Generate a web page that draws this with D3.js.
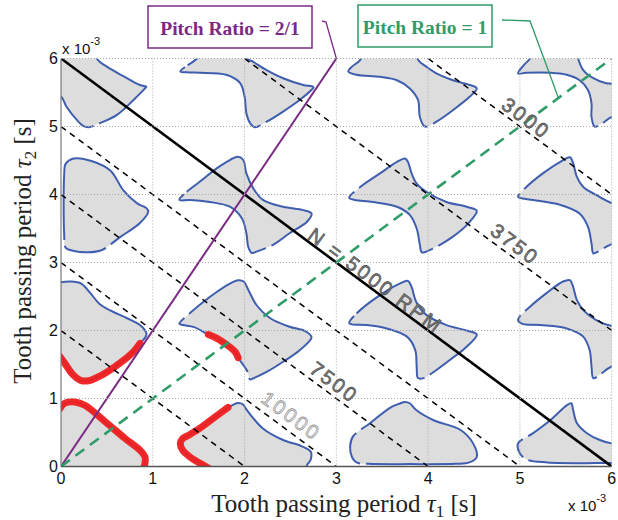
<!DOCTYPE html>
<html>
<head>
<meta charset="utf-8">
<script src="https://cdn.jsdelivr.net/npm/d3@7"></script>
<style>
  body { margin: 0; background: #fff; }
  svg { display: block; }
</style>
</head>
<body>
<svg id="chart" width="618" height="520"></svg>
<script>
// Tooth passing periods are given in ms (axes show values x 10^-3 s).
const tickValues = [0, 1, 2, 3, 4, 5, 6];

// Unstable lobes in the (tau1, tau2) plane, one outline per lobe, [tau1, tau2] in ms.
const lobe00 = [[-0.3,-0.3],[-0.3,0.856],[-0.01,0.856],[0.04,0.93],[0.15,0.95],[0.26,0.9],[0.48,0.66],[0.7,0.41],[0.86,0.24],[0.915,0.14],[0.915,0.05],[0.9,-0.03],[0.9,-0.3]];
const lobe10 = [[1.615,-0.03],[1.51,0.05],[1.405,0.14],[1.325,0.24],[1.3,0.34],[1.325,0.41],[1.39,0.46],[1.51,0.56],[1.66,0.71],[1.82,0.87],[1.93,0.935],[1.98,0.915],[2.03,0.82],[2.2,0.56],[2.42,0.39],[2.62,0.3],[2.72,0.22],[2.72,0.1],[2.68,0.02],[2.6,-0.3],[1.7,-0.3]];
const lobe20 = [[3.15,0.29],[3.17,0.14],[3.22,0.06],[3.35,0.04],[3.8,0.035],[4.3,0.04],[4.45,0.06],[4.53,0.14],[4.49,0.34],[4.35,0.54],[4.06,0.68],[3.87,0.83],[3.8,0.93],[3.75,0.95],[3.68,0.92],[3.58,0.86],[3.37,0.64],[3.18,0.44]];
const lobe30 = [[4.98,0.34],[5.0,0.19],[5.08,0.1],[5.3,0.06],[6.0,0.05],[6.3,0.05],[6.3,0.33],[6.0,0.34],[5.87,0.39],[5.73,0.49],[5.62,0.64],[5.58,0.83],[5.56,0.93],[5.51,0.9],[5.33,0.68],[5.145,0.49]];
const lobe01 = [[-0.3,1.615],[-0.01,1.615],[0.04,1.52],[0.117,1.37],[0.21,1.27],[0.3,1.26],[0.41,1.32],[0.59,1.47],[0.77,1.66],[0.86,1.81],[0.92,1.9],[0.93,1.96],[0.86,2.08],[0.72,2.18],[0.53,2.3],[0.42,2.39],[0.32,2.55],[0.22,2.69],[0.1,2.72],[0.0,2.71],[-0.3,2.71]];
const lobe11 = [[1.29,2.1],[1.4,2.25],[1.55,2.42],[1.7,2.57],[1.84,2.69],[1.93,2.74],[1.99,2.72],[2.04,2.6],[2.13,2.375],[2.28,2.18],[2.49,2.056],[2.66,1.99],[2.73,1.9],[2.6,1.71],[2.42,1.54],[2.24,1.39],[2.1,1.3],[2.06,1.28],[2.03,1.4],[1.93,1.6],[1.895,1.69],[1.805,1.79],[1.7,1.885],[1.605,1.94],[1.45,2.05],[1.33,2.08]];
const lobe21 = [[3.14,2.11],[3.22,2.25],[3.475,2.52],[3.69,2.69],[3.78,2.73],[3.82,2.64],[3.87,2.42],[3.98,2.23],[4.2,2.08],[4.42,2.0],[4.53,1.94],[4.42,1.76],[4.24,1.57],[4.06,1.39],[3.95,1.3],[3.89,1.3],[3.875,1.47],[3.86,1.71],[3.77,1.91],[3.55,2.03],[3.33,2.08],[3.17,2.09]];
const lobe31 = [[4.98,2.16],[5.11,2.35],[5.29,2.55],[5.47,2.72],[5.545,2.74],[5.58,2.64],[5.62,2.45],[5.69,2.3],[5.835,2.15],[6.02,2.06],[6.3,2.02],[6.3,1.55],[6.0,1.47],[5.87,1.35],[5.8,1.3],[5.78,1.47],[5.76,1.71],[5.69,1.91],[5.51,2.03],[5.22,2.08],[5.02,2.1]];
const lobe02 = [[0.29,3.15],[0.14,3.17],[0.05,3.22],[0.035,3.4],[0.035,4.3],[0.05,4.45],[0.14,4.53],[0.34,4.49],[0.54,4.35],[0.68,4.06],[0.83,3.87],[0.93,3.8],[0.95,3.75],[0.86,3.58],[0.64,3.37],[0.44,3.18]];
const lobe12 = [[1.289,3.92],[1.37,4.04],[1.514,4.19],[1.696,4.385],[1.84,4.507],[1.93,4.556],[1.986,4.507],[2.02,4.31],[2.095,4.09],[2.2,3.92],[2.42,3.82],[2.64,3.77],[2.73,3.72],[2.68,3.6],[2.49,3.43],[2.31,3.26],[2.13,3.16],[2.08,3.14],[2.04,3.23],[2.02,3.43],[1.97,3.65],[1.84,3.82],[1.62,3.89],[1.405,3.92]];
const lobe22 = [[3.14,3.95],[3.26,4.11],[3.475,4.31],[3.66,4.48],[3.75,4.53],[3.78,4.48],[3.82,4.31],[3.875,4.16],[3.98,4.04],[4.2,3.89],[4.42,3.82],[4.53,3.76],[4.42,3.55],[4.27,3.38],[4.13,3.26],[3.98,3.16],[3.93,3.15],[3.91,3.26],[3.875,3.5],[3.8,3.7],[3.66,3.82],[3.4,3.89],[3.2,3.92]];
const lobe32 = [[4.98,3.97],[5.07,4.11],[5.25,4.31],[5.44,4.48],[5.545,4.547],[5.58,4.46],[5.62,4.26],[5.69,4.11],[5.835,3.99],[6.01,3.87],[6.3,3.8],[6.3,3.4],[6.0,3.27],[5.94,3.23],[5.85,3.16],[5.8,3.135],[5.78,3.28],[5.74,3.53],[5.65,3.72],[5.435,3.85],[5.145,3.92],[5.0,3.95]];
const lobe03 = [[-0.3,6.3],[-0.3,5.6],[0.0,5.44],[0.06,5.29],[0.17,5.1],[0.24,5.01],[0.3,4.99],[0.425,5.05],[0.61,5.17],[0.79,5.39],[0.915,5.56],[0.93,5.585],[0.86,5.61],[0.68,5.74],[0.5,5.88],[0.39,6.0],[0.35,6.3]];
const lobe13 = [[1.3,5.81],[1.38,5.9],[1.48,6.0],[1.6,6.3],[2.0,6.3],[2.03,6.0],[2.095,5.95],[2.24,5.83],[2.42,5.71],[2.64,5.61],[2.75,5.58],[2.73,5.54],[2.6,5.39],[2.42,5.22],[2.24,5.07],[2.11,4.99],[2.06,5.05],[2.02,5.19],[2.0,5.44],[1.95,5.64],[1.8,5.76],[1.51,5.79],[1.4,5.795]];
const lobe23 = [[3.13,5.81],[3.17,5.88],[3.26,5.98],[3.35,6.3],[3.85,6.3],[3.89,5.98],[3.98,5.88],[4.09,5.78],[4.27,5.68],[4.455,5.61],[4.53,5.56],[4.455,5.44],[4.27,5.24],[4.09,5.07],[3.965,5.0],[3.91,5.14],[3.89,5.39],[3.8,5.56],[3.66,5.68],[3.475,5.73],[3.22,5.76]];
const lobe33 = [[4.98,5.78],[5.04,5.9],[5.11,6.0],[5.2,6.3],[5.6,6.3],[5.635,6.0],[5.69,5.83],[5.8,5.71],[5.94,5.635],[6.0,5.63],[6.3,5.6],[6.3,5.2],[6.0,5.14],[5.9,5.05],[5.815,5.0],[5.78,5.14],[5.78,5.34],[5.74,5.54],[5.65,5.68],[5.51,5.76],[5.33,5.79],[5.07,5.79]];
const lobes = [lobe00, lobe10, lobe20, lobe30, lobe01, lobe11, lobe21, lobe31,
               lobe02, lobe12, lobe22, lobe32, lobe03, lobe13, lobe23, lobe33];

// Breaks in each lobe's contour line (same order as lobes), [tau1, tau2] in ms.
const lobeBreaks = [
  [], [], [[3.29,0.05],[3.26,0.51]], [[5.07,0.14],[5.07,0.41]],
  [], [[1.37,2.2],[2.0,1.33]], [[3.2,2.25],[3.98,1.35]], [[5.02,2.25],[5.87,1.35]],
  [[0.05,3.29],[0.51,3.26]], [[1.34,4.05],[2.26,3.23]], [[3.2,4.09],[4.09,3.21]], [[5.02,4.04],[5.89,3.18]],
  [[0.38,5.02]], [[1.38,5.86],[2.2,5.05]], [[4.02,5.05]], [[5.87,5.05]]
];

// Stability boundary points found by the search (red markers).
const edgeA  = [[-0.01,0.856],[0.04,0.93],[0.15,0.95],[0.26,0.9],[0.48,0.66],[0.7,0.41],[0.86,0.24],[0.915,0.14],[0.915,0.05],[0.9,-0.03]];
const edgeB  = [[1.615,-0.03],[1.51,0.05],[1.405,0.14],[1.325,0.24],[1.3,0.34],[1.325,0.41],[1.39,0.46],[1.51,0.56],[1.66,0.71],[1.82,0.87]];
const edgeC  = [[-0.01,1.615],[0.04,1.52],[0.117,1.37],[0.21,1.27],[0.3,1.26],[0.41,1.32],[0.59,1.47],[0.77,1.66],[0.86,1.81]];
const edgeD  = [[1.605,1.94],[1.7,1.885],[1.805,1.79],[1.895,1.69],[1.93,1.6]];
const stableEdges = [edgeA, edgeB, edgeC, edgeD];

// Constant spindle speed lines: 4 teeth, 2(tau1 + tau2) = 60/N  ->  tau1 + tau2 = 30000/N ms
const dashedSpeeds = [15000, 10000, 7500, 6000, 3750, 3000];
const referenceSpeed = 5000;
const speedLabels = [
  { rpm: 3000,  text: "3000",          at: 5.0,   off: 10.6, light: false },
  { rpm: 3750,  text: "3750",          at: 4.87,  off: 12.0, light: false },
  { rpm: 5000,  text: "N = 5000 RPM",  at: 3.37,  off: 9.0,  light: false },
  { rpm: 7500,  text: "7500",          at: 2.9,   off: 12.0, light: false },
  { rpm: 10000, text: "10000",         at: 2.42,  off: 14.0, light: true }
];

// Pitch ratio lines tau2 = r * tau1 and their callouts
const pitchRatios = [
  { r: 2, label: "Pitch Ratio = 2/1", color: "#7b2a84", dash: null,   target: 3.0,  box: [148, 6, 164, 42] },
  { r: 1, label: "Pitch Ratio = 1",   color: "#2f9c69", dash: "11,7", target: 5.42, box: [358, 5, 134, 42] }
];

const plot = { left: 61, right: 611.7, top: 58.5, bottom: 466.5 };

const x = d3.scaleLinear().domain([0, 6]).range([plot.left, plot.right]);
const y = d3.scaleLinear().domain([0, 6]).range([plot.bottom, plot.top]);

const svg = d3.select("#chart");

svg.append("defs").append("clipPath").attr("id", "plotClip")
  .append("rect")
  .attr("x", plot.left).attr("y", plot.top)
  .attr("width", plot.right - plot.left).attr("height", plot.bottom - plot.top);

const area = svg.append("g").attr("clip-path", "url(#plotClip)");

// Lobes: fill, then contour line with its breaks
const lobeLine = d3.line().x(d => x(d[0])).y(d => y(d[1])).curve(d3.curveCatmullRomClosed.alpha(0.5));
area.append("g").selectAll("path").data(lobes).join("path")
  .attr("d", lobeLine)
  .attr("fill", "#dddddd")
  .attr("stroke", "none");

function breakDashes(node, breaks) {
  const L = node.getTotalLength();
  if (!breaks.length) return null;
  const pos = breaks.map(b => {
    const bx = x(b[0]), by = y(b[1]);
    let best = 0, bd = Infinity;
    for (let s = 0; s <= L; s += 1) {
      const p = node.getPointAtLength(s);
      const d = (p.x - bx) ** 2 + (p.y - by) ** 2;
      if (d < bd) { bd = d; best = s; }
    }
    return best;
  }).sort((a, b) => a - b);
  const arr = [];
  let cur = 0;
  pos.forEach(p => {
    const a = Math.max(cur, p - 3);
    arr.push(a - cur, 6);
    cur = a + 6;
  });
  arr.push(L - cur + 2, 0);
  return arr.join(",");
}

area.append("g").selectAll("path").data(lobes).join("path")
  .attr("d", lobeLine)
  .attr("fill", "none")
  .attr("stroke", "#3f5eaf")
  .attr("stroke-width", 2)
  .each(function (d, i) {
    const dash = breakDashes(this, lobeBreaks[i]);
    if (dash) d3.select(this).attr("stroke-dasharray", dash);
  });

// Dotted grid
const grid = svg.append("g");
grid.selectAll("line.gx").data(tickValues.filter(v => v > 0)).join("line")
  .attr("class", "gx")
  .attr("x1", d => x(d)).attr("x2", d => x(d))
  .attr("y1", plot.top).attr("y2", plot.bottom)
  .attr("stroke", "#a8a8a8").attr("stroke-width", 1).attr("stroke-dasharray", "1,2");
grid.selectAll("line.gy").data(tickValues.filter(v => v > 0)).join("line")
  .attr("class", "gy")
  .attr("x1", plot.left).attr("x2", plot.right)
  .attr("y1", d => y(d)).attr("y2", d => y(d))
  .attr("stroke", "#a8a8a8").attr("stroke-width", 1).attr("stroke-dasharray", "1,2");

// Red stability boundary markers
const edgeLine = d3.line().x(d => x(d[0])).y(d => y(d[1])).curve(d3.curveCatmullRom.alpha(0.5));
area.append("g").selectAll("path").data(stableEdges).join("path")
  .attr("d", edgeLine)
  .attr("fill", "none")
  .attr("stroke", "#ef1f1f")
  .attr("stroke-width", 7)
  .attr("stroke-linecap", "round")
  .attr("stroke-linejoin", "round")
  .attr("opacity", 0.95);

// Constant speed lines
const speedSum = n => 30000 / n;
function speedSegment(c) {
  return [[Math.max(0, c - 6), Math.min(6, c)], [Math.min(6, c), Math.max(0, c - 6)]];
}
area.append("g").selectAll("line").data(dashedSpeeds).join("line")
  .each(function (n) {
    const s = speedSegment(speedSum(n));
    d3.select(this)
      .attr("x1", x(s[0][0])).attr("y1", y(s[0][1]))
      .attr("x2", x(s[1][0])).attr("y2", y(s[1][1]));
  })
  .attr("stroke", "#000").attr("stroke-width", 1.5).attr("stroke-dasharray", "6,5");

{
  const s = speedSegment(speedSum(referenceSpeed));
  area.append("line")
    .attr("x1", x(s[0][0])).attr("y1", y(s[0][1]))
    .attr("x2", x(s[1][0])).attr("y2", y(s[1][1]))
    .attr("stroke", "#000").attr("stroke-width", 2.6);
}

// Pitch ratio lines
area.append("g").selectAll("line").data(pitchRatios).join("line")
  .attr("x1", x(0)).attr("y1", y(0))
  .attr("x2", d => x(Math.min(6, 6 / d.r))).attr("y2", d => y(Math.min(6, 6 * d.r)))
  .attr("stroke", d => d.color)
  .attr("stroke-width", d => d.dash ? 2.6 : 2)
  .attr("stroke-dasharray", d => d.dash);

// Axis lines
svg.append("line").attr("x1", plot.left).attr("x2", plot.left)
  .attr("y1", plot.top).attr("y2", plot.bottom)
  .attr("stroke", "#7a7a7a").attr("stroke-width", 1.2);
svg.append("line").attr("x1", plot.left).attr("x2", plot.right)
  .attr("y1", plot.bottom).attr("y2", plot.bottom)
  .attr("stroke", "#555").attr("stroke-width", 1.5);

// Speed labels along their lines
const angle = Math.atan2(y(0) - y(1), x(1) - x(0)) * 180 / Math.PI;
const rad = angle * Math.PI / 180;
svg.append("g").selectAll("text").data(speedLabels).join("text")
  .attr("transform", d => {
    const c = speedSum(d.rpm);
    const px = x(d.at) + d.off * Math.sin(rad);
    const py = y(c - d.at) - d.off * Math.cos(rad);
    return `translate(${px},${py}) rotate(${angle})`;
  })
  .attr("text-anchor", "middle")
  .attr("dy", "0.36em")
  .attr("font-family", "'Liberation Sans', Arial, sans-serif")
  .attr("font-size", 20)
  .attr("letter-spacing", 2.5)
  .attr("fill", d => d.light ? "#e2e2e2" : "#7c7c7c")
  .attr("stroke", d => d.light ? "#8a8a8a" : "#4a4a4a")
  .attr("stroke-width", 0.6)
  .text(d => d.text);

// Tick labels
const tickFont = "'Liberation Sans', Arial, sans-serif";
svg.append("g").selectAll("text").data(tickValues).join("text")
  .attr("x", plot.left - 3).attr("y", d => y(d))
  .attr("dy", "0.36em")
  .attr("text-anchor", "end")
  .attr("font-family", tickFont).attr("font-size", 16).attr("fill", "#111")
  .text(d => d);
svg.append("g").selectAll("text").data(tickValues).join("text")
  .attr("x", d => x(d)).attr("y", plot.bottom + 17)
  .attr("text-anchor", "middle")
  .attr("font-family", tickFont).attr("font-size", 16).attr("fill", "#111")
  .text(d => d);

// Exponent markers
function exponent(xp, yb) {
  const t = svg.append("text").attr("x", xp).attr("y", yb)
    .attr("font-family", tickFont).attr("font-size", 15).attr("fill", "#111");
  t.append("tspan").text("x 10");
  t.append("tspan").attr("dy", -9).attr("font-size", 11).text("-3");
}
exponent(plot.left + 1, 54);
exponent(568, 511);

// Axis titles
const serif = "'Liberation Serif', 'Times New Roman', serif";
const xt = svg.append("text")
  .attr("x", 344).attr("y", 512)
  .attr("text-anchor", "middle")
  .attr("font-family", serif).attr("font-size", 25).attr("fill", "#222");
xt.append("tspan").text("Tooth passing period ");
xt.append("tspan").attr("font-style", "italic").text("τ");
xt.append("tspan").attr("font-size", 17).attr("dy", 5).text("1");
xt.append("tspan").attr("dy", -5).text(" [s]");

const yt = svg.append("text")
  .attr("transform", "translate(31,251) rotate(-90)")
  .attr("text-anchor", "middle")
  .attr("font-family", serif).attr("font-size", 25).attr("fill", "#222");
yt.append("tspan").text("Tooth passing period ");
yt.append("tspan").attr("font-style", "italic").text("τ");
yt.append("tspan").attr("font-size", 17).attr("dy", 5).text("2");
yt.append("tspan").attr("dy", -5).text(" [s]");

// Pitch ratio callouts
pitchRatios.forEach(p => {
  const [bx, by, bw, bh] = p.box;
  svg.append("rect")
    .attr("x", bx).attr("y", by).attr("width", bw).attr("height", bh)
    .attr("fill", "#fff").attr("stroke", p.color).attr("stroke-width", 1.5);
  svg.append("text")
    .attr("x", bx + bw / 2).attr("y", by + 29)
    .attr("text-anchor", "middle")
    .attr("font-family", serif).attr("font-weight", "bold").attr("font-size", 19.5)
    .attr("fill", p.color)
    .text(p.label);
  const tx = x(Math.min(p.target, 6 / p.r)), ty = y(Math.min(p.target * p.r, 6));
  const sx = bx + bw + 10, sy = by + 15;
  svg.append("polyline")
    .attr("points", `${sx},${sy} ${sx + (p.r === 1 ? 28 : 4)},${sy + 1} ${tx},${ty}`)
    .attr("fill", "none").attr("stroke", p.color).attr("stroke-width", 1.3);
});
</script>
</body>
</html>
